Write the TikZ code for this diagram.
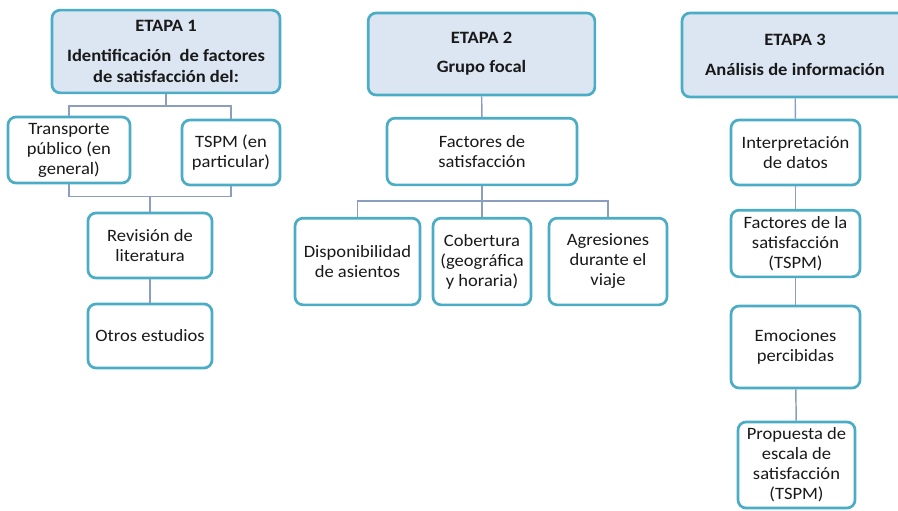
\documentclass[tikz,border=0pt]{standalone}
\usepackage{fontspec}
\setmainfont{Carlito}[FakeStretch=1.07]
\usetikzlibrary{positioning}

\definecolor{bordeT}{RGB}{75,172,198}
\definecolor{fondoE}{RGB}{220,230,242}
\definecolor{lineaC}{RGB}{140,158,192}

\tikzset{every picture/.style={line width=0.75pt}}
\tikzset{
  caja/.style={draw=bordeT, line width=2pt, rounded corners=6pt, fill=white,
    align=center, inner sep=1pt, text=black!90,
    font=\fontsize{13}{15}\selectfont},
  etapa/.style={caja, fill=fondoE, font=\fontsize{13}{16}\selectfont\bfseries},
  enlace/.style={draw=lineaC, line width=1.1pt}
}

\begin{document}
\begin{tikzpicture}[x=0.75pt,y=0.75pt,yscale=-1,xscale=1]
	\useasboundingbox (0,0) rectangle (898,510);
	\clip (0,0) rectangle (898,510);

	% Etapa 1
	\node[etapa, minimum width=171pt, minimum height=62pt] (e1) at (166,51.5)
	  {ETAPA 1\\[6pt]Identificación\ \ de factores\\de satisfacción del:};
	\node[caja, minimum width=91.5pt, minimum height=49.5pt] (transp) at (69,150)
	  {Transporte\\público (en\\general)};
	\node[caja, minimum width=73.5pt, minimum height=48.75pt] (tspm) at (231,152.5)
	  {TSPM (en\\particular)};
	\node[caja, minimum width=93pt, minimum height=48.75pt] (revision) at (150,245.5)
	  {Revisión de\\literatura};
	\node[caja, minimum width=93pt, minimum height=48pt] (otros) at (150,336)
	  {Otros estudios};

	% Etapa 2
	\node[etapa, minimum width=170pt, minimum height=61.5pt] (e2) at (481.5,54)
	  {ETAPA 2\\[6pt]Grupo focal};
	\node[caja, minimum width=142.5pt, minimum height=50pt] (factores) at (482,151.5)
	  {Factores de\\satisfacción};
	\node[caja, minimum width=93.75pt, minimum height=65pt] (dispo) at (357.5,261.5)
	  {Disponibilidad\\de asientos};
	\node[caja, minimum width=73.5pt, minimum height=65pt] (cober) at (482,261.5)
	  {Cobertura\\(geográfica\\y horaria)};
	\node[caja, minimum width=88.5pt, minimum height=65pt] (agres) at (608,261.5)
	  {Agresiones\\durante el\\viaje};

	% Etapa 3
	\node[etapa, minimum width=169.5pt, minimum height=63pt] (e3) at (795,55)
	  {ETAPA 3\\[6pt]Análisis de información};
	\node[caja, minimum width=96.75pt, minimum height=48.75pt] (interp) at (795.5,152.5)
	  {Interpretación\\de datos};
	\node[caja, minimum width=96.75pt, minimum height=50pt] (factla) at (795.5,243.5)
	  {Factores de la\\satisfacción\\(TSPM)};
	\node[caja, minimum width=96.75pt, minimum height=61.5pt] (emoc) at (795.5,347)
	  {Emociones\\percibidas};
	\node[caja, minimum width=87.75pt, minimum height=64.5pt] (propu) at (796.5,465)
	  {Propuesta de\\escala de\\satisfacción\\(TSPM)};

	% juntas
	\path (e1.south) ++(0,12) coordinate (j1);
	\path (revision.north) ++(0,-15) coordinate (j2);
	\path (factores.south) ++(0,15) coordinate (j3);

	% conectores etapa 1
	\draw[enlace] (e1.south) -- (j1);
	\draw[enlace] (transp.north) |- (j1) -| (tspm.north);
	\draw[enlace] (transp.south) |- (j2) -| (tspm.south);
	\draw[enlace] (j2) -- (revision.north);
	\draw[enlace] (revision) -- (otros);
	% conectores etapa 2
	\draw[enlace] (e2) -- (factores);
	\draw[enlace] (factores.south) -- (j3);
	\draw[enlace] (dispo.north) |- (j3) -| (agres.north);
	\draw[enlace] (j3) -- (cober.north);
	% conectores etapa 3
	\draw[enlace] (e3) -- (interp);
	\draw[enlace] (interp) -- (factla);
	\draw[enlace] (factla) -- (emoc);
	\draw[enlace] (emoc) -- (propu);

\end{tikzpicture}
\end{document}
